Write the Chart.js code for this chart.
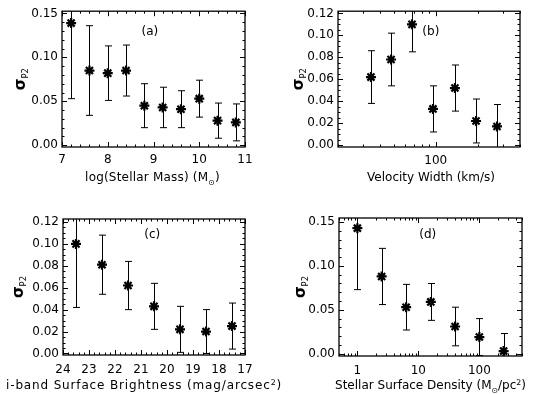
<!DOCTYPE html>
<html><head><meta charset="utf-8">
<script src="https://cdn.jsdelivr.net/npm/chart.js@4.4.1/dist/chart.umd.min.js"></script>
<style>
html,body{margin:0;padding:0;background:#fff;}
#wrap{position:relative;width:536px;height:394px;overflow:hidden;background:#fff;}
canvas{position:absolute;}
</style></head><body>
<div id="wrap">
<canvas id="ca"></canvas>
<canvas id="cb"></canvas>
<canvas id="cc"></canvas>
<canvas id="cd"></canvas>
</div>
<script>
// ---- Panel (a): stellar mass ----
const massX = [7.2, 7.6, 8.0, 8.4, 8.8, 9.2, 9.6, 10.0, 10.4, 10.8];
const massY = [0.139, 0.085, 0.082, 0.085, 0.045, 0.043, 0.041, 0.053, 0.028, 0.026];
const massErr = [0.086, 0.051, 0.031, 0.029, 0.025, 0.023, 0.021, 0.021, 0.020, 0.021];
const massTicks = [7, 8, 9, 10, 11];
// ---- Panel (b): velocity width ----
const velX = [34.4, 47.9, 67.6, 95.5, 137, 194, 274];
const velY = [0.062, 0.078, 0.110, 0.033, 0.052, 0.022, 0.017];
const velErr = [0.024, 0.024, 0.025, 0.021, 0.021, 0.020, 0.020];
const velTicks = [100];
// ---- Panel (c): i-band surface brightness ----
const sbX = [23.5, 22.5, 21.5, 20.5, 19.5, 18.5, 17.5];
const sbY = [0.100, 0.081, 0.062, 0.043, 0.022, 0.020, 0.025];
const sbErr = [0.058, 0.027, 0.022, 0.021, 0.021, 0.020, 0.021];
const sbTicks = [24, 23, 22, 21, 20, 19, 18, 17];
// ---- Panel (d): stellar surface density ----
const densX = [1, 2.5, 6.3, 16, 40, 100, 250];
const densY = [0.143, 0.088, 0.053, 0.059, 0.031, 0.019, 0.003];
const densErr = [0.070, 0.032, 0.026, 0.021, 0.022, 0.021, 0.020];
const densTicks = [1, 10, 100];
// ---- y tick labels ----
const yTicks15 = [0, 0.05, 0.10, 0.15];
const yTicks12 = [0, 0.02, 0.04, 0.06, 0.08, 0.10, 0.12];

const FONT = '"DejaVu Sans", "Liberation Sans", sans-serif';

const panels = [
  {id:'ca', pos:[0,0], size:[268,197], area:{l:62,r:245,t:11,b:147},
   xs:massX, ys:massY, es:massErr, xType:'linear', xMin:7, xMax:11, rev:false,
   xTicks:massTicks, xMinor:0.2, xFmt:v=>String(v), xPad:6,
   yMin:-0.002, yMax:0.1525, yTicks:yTicks15, yMinor:0.01,
   xTitle:[{t:'log(Stellar Mass) (M'},{t:'\u2299',sub:true},{t:')'}], xTitleY:177, xTitleDx:-1, xSpacing:0.2,
   yTitleX:20, label:'(a)', lab:[0.48,0.15]},
  {id:'cb', pos:[268,0], size:[268,197], area:{l:70,r:252,t:11,b:147},
   xs:velX, ys:velY, es:velErr, xType:'logarithmic', xMin:20, xMax:400, rev:false,
   xTicks:velTicks, xFmt:v=>String(v), xPad:7,
   yMin:-0.0017, yMax:0.122, yTicks:yTicks12, yMinor:0.005,
   xTitle:[{t:'Velocity Width (km/s)'}], xTitleY:177, xTitleDx:2, xSpacing:0,
   yTitleX:30, label:'(b)', lab:[0.51,0.155]},
  {id:'cc', pos:[0,197], size:[300,197], area:{l:63,r:245,t:22,b:158},
   xs:sbX, ys:sbY, es:sbErr, xType:'linear', xMin:17, xMax:24, rev:true,
   xTicks:sbTicks, xMinor:0.2, xFmt:v=>String(v), xPad:8,
   yMin:-0.0014, yMax:0.1227, yTicks:yTicks12, yMinor:0.005,
   xTitle:[{t:'i-band Surface Brightness (mag/arcsec'},{t:'2',sup:true},{t:')'}], xTitleY:188, xTitleDx:-10, xSpacing:0.85,
   yTitleX:18, label:'(c)', lab:[0.49,0.12]},
  {id:'cd', pos:[268,197], size:[268,197], area:{l:71,r:254,t:21,b:159},
   xs:densX, ys:densY, es:densErr, xType:'logarithmic', xMin:0.5, xMax:500, rev:false,
   xTicks:densTicks, xFmt:v=>String(v), xPad:8,
   yMin:-0.0026, yMax:0.1546, yTicks:yTicks15, yMinor:0.01,
   xTitle:[{t:'Stellar Surface Density (M'},{t:'\u2299',sub:true},{t:'/pc'},{t:'2',sup:true},{t:')'}], xTitleY:188, xTitleDx:0, xSpacing:0,
   yTitleX:32, label:'(d)', lab:[0.485,0.12]}
];

function linMinor(min, max, step) {
  const out = [];
  const lo = Math.min(min, max), hi = Math.max(min, max);
  for (let k = Math.ceil(lo / step - 1e-9); k * step <= hi + 1e-9; k++) out.push(k * step);
  return out;
}
function logMinor(min, max) {
  const out = [];
  for (let d = Math.floor(Math.log10(min)); d <= Math.ceil(Math.log10(max)); d++) {
    for (let k = 1; k <= 9; k++) {
      const v = k * Math.pow(10, d);
      if (v >= min * 0.9999 && v <= max * 1.0001) out.push(v);
    }
  }
  return out;
}

function drawRich(ctx, segs, cx, cy, base, spacing) {
  ctx.letterSpacing = (spacing || 0) + 'px';
  let total = 0;
  const items = segs.map(s => {
    const size = (s.sub || s.sup) ? base * 0.65 : (s.size || base);
    const font = (s.bold ? 'bold ' : '') + size + 'px ' + FONT;
    ctx.font = font;
    const w = ctx.measureText(s.t).width;
    total += w;
    return {s, font, w, dy: s.sub ? base * 0.28 : (s.sup ? -base * 0.4 : 0)};
  });
  let x = cx - total / 2;
  ctx.textAlign = 'left';
  ctx.textBaseline = 'alphabetic';
  const baseY = cy + base * 0.36;
  items.forEach(it => { ctx.font = it.font; ctx.fillText(it.s.t, x, baseY + it.dy); x += it.w; });
  ctx.letterSpacing = '0px';
}

const idlPlugin = {
  id: 'idl',
  beforeDatasetsDraw(chart) {
    const {ctx, chartArea: ca, scales: {x, y}} = chart;
    ctx.save();
    ctx.beginPath();
    ctx.rect(ca.left, ca.top, ca.right - ca.left, ca.bottom - ca.top);
    ctx.clip();
    ctx.strokeStyle = '#000';
    ctx.lineWidth = 1;
    chart.data.datasets[0].data.forEach(p => {
      const px = Math.round(x.getPixelForValue(p.x)) + 0.5;
      const pt = y.getPixelForValue(p.y + p.e);
      const pb = y.getPixelForValue(p.y - p.e);
      ctx.beginPath();
      ctx.moveTo(px, pt); ctx.lineTo(px, pb);
      ctx.moveTo(px - 3.5, pt); ctx.lineTo(px + 3.5, pt);
      ctx.moveTo(px - 3.5, pb); ctx.lineTo(px + 3.5, pb);
      ctx.stroke();
    });
    ctx.restore();
  },
  afterDraw(chart, args, o) {
    const P = o.panel;
    const {ctx, chartArea: ca, scales: {x, y}} = chart;
    ctx.save();
    ctx.strokeStyle = '#000';
    ctx.fillStyle = '#000';
    // frame
    ctx.lineWidth = 1.3;
    ctx.strokeRect(ca.left, ca.top, ca.right - ca.left, ca.bottom - ca.top);
    // ticks (inward, on all four sides)
    ctx.lineWidth = 1;
    const majL = 5, minL = 2.5;
    const xMinor = P.xType === 'logarithmic' ? logMinor(P.xMin, P.xMax) : linMinor(P.xMin, P.xMax, P.xMinor);
    const xTickLines = (vals, len) => vals.forEach(v => {
      const px = Math.round(x.getPixelForValue(v)) + 0.5;
      if (px < ca.left - 0.5 || px > ca.right + 0.5) return;
      ctx.beginPath();
      ctx.moveTo(px, ca.bottom); ctx.lineTo(px, ca.bottom - len);
      ctx.moveTo(px, ca.top); ctx.lineTo(px, ca.top + len);
      ctx.stroke();
    });
    xTickLines(xMinor, minL);
    xTickLines(P.xTicks, majL);
    const yTickLines = (vals, len) => vals.forEach(v => {
      const py = Math.round(y.getPixelForValue(v)) + 0.5;
      if (py < ca.top - 0.5 || py > ca.bottom + 0.5) return;
      ctx.beginPath();
      ctx.moveTo(ca.left, py); ctx.lineTo(ca.left + len, py);
      ctx.moveTo(ca.right, py); ctx.lineTo(ca.right - len, py);
      ctx.stroke();
    });
    yTickLines(linMinor(P.yMin, P.yMax, P.yMinor), minL);
    yTickLines(P.yTicks, majL);
    // x title
    drawRich(ctx, P.xTitle, (ca.left + ca.right) / 2 + P.xTitleDx, P.xTitleY, 12, P.xSpacing);
    // y title (sigma_P2), rotated
    ctx.save();
    ctx.translate(P.yTitleX, (ca.top + ca.bottom) / 2);
    ctx.rotate(-Math.PI / 2);
    drawRich(ctx, [{t:'\u03c3', bold:true, size:15}, {t:'P2', sub:true}], 0, 0, 13, 0);
    ctx.restore();
    // panel label
    ctx.font = '12px ' + FONT;
    ctx.textAlign = 'center';
    ctx.textBaseline = 'middle';
    ctx.fillText(P.label, ca.left + P.lab[0] * (ca.right - ca.left), ca.top + P.lab[1] * (ca.bottom - ca.top));
    ctx.restore();
  }
};

panels.forEach(P => {
  const cv = document.getElementById(P.id);
  cv.width = P.size[0]; cv.height = P.size[1];
  cv.style.left = P.pos[0] + 'px'; cv.style.top = P.pos[1] + 'px';
  cv.style.width = P.size[0] + 'px'; cv.style.height = P.size[1] + 'px';
  const A = P.area;
  new Chart(cv, {
    type: 'scatter',
    data: {datasets: [{
      data: P.xs.map((v, i) => ({x: v, y: P.ys[i], e: P.es[i]})),
      pointStyle: 'star', pointRadius: 5, borderWidth: 2.2,
      borderColor: '#000', backgroundColor: '#000', clip: false
    }]},
    options: {
      responsive: false, animation: false, devicePixelRatio: 1,
      layout: {padding: {left: 0, right: P.size[0] - A.r, top: A.t, bottom: 0}},
      plugins: {legend: {display: false}, tooltip: {enabled: false}, idl: {panel: P}},
      scales: {
        x: {
          type: P.xType, min: P.xMin, max: P.xMax, reverse: P.rev,
          afterFit: s => { s.height = P.size[1] - A.b; },
          afterBuildTicks: s => { s.ticks = P.xTicks.map(v => ({value: v})); },
          grid: {display: false, drawTicks: false}, border: {display: false},
          ticks: {padding: P.xPad, color: '#000', font: {family: FONT, size: 12},
                  autoSkip: false, maxRotation: 0, callback: v => P.xFmt(v)}
        },
        y: {
          type: 'linear', min: P.yMin, max: P.yMax,
          afterFit: s => { s.width = A.l; },
          afterBuildTicks: s => { s.ticks = P.yTicks.map(v => ({value: v})); },
          grid: {display: false, drawTicks: false}, border: {display: false},
          ticks: {padding: 4, color: '#000', font: {family: FONT, size: 12},
                  callback: v => v.toFixed(2)}
        }
      }
    },
    plugins: [idlPlugin]
  });
});
</script>
</body></html>
